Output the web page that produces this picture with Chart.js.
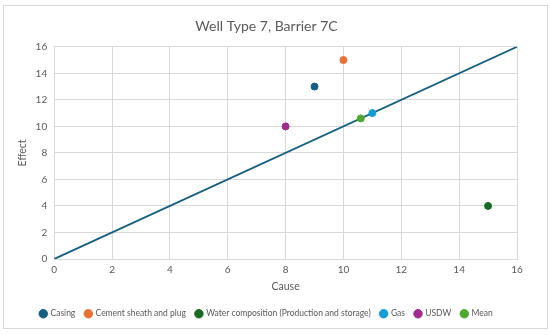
<!DOCTYPE html>
<html>
<head>
<meta charset="utf-8">
<script src="https://cdn.jsdelivr.net/npm/chart.js@4"></script>
<style>
  html, body { margin: 0; padding: 0; background: #fff; }
  #box { position: absolute; left: 3px; top: 5px; width: 543px; height: 322px; border: 1px solid #d9d9d9; }
  canvas { display: block; }
</style>
</head>
<body>
<div id="box"><canvas id="wellChart" width="543" height="322"></canvas></div>
<script>
  var seriesNames = ["Casing", "Cement sheath and plug", "Water composition (Production and storage)", "Gas", "USDW", "Mean"];
  var causeValues = [9, 10, 15, 11, 8, 10.6];
  var effectValues = [13, 15, 4, 11, 10, 10.6];
  var seriesColors = ["#156082", "#E97132", "#196B24", "#0F9ED5", "#A02B93", "#4EA72E"];
  var refLineX = [0, 16];
  var refLineY = [0, 16];

  var datasets = seriesNames.map(function (name, i) {
    return {
      label: name,
      data: [{ x: causeValues[i], y: effectValues[i] }],
      backgroundColor: seriesColors[i],
      borderColor: seriesColors[i],
      pointRadius: 3.5,
      showLine: false
    };
  });

  // straight reference line, kept out of the legend
  datasets.push({
    label: "line",
    data: refLineX.map(function (x, i) { return { x: x, y: refLineY[i] }; }),
    borderColor: "#156082",
    borderWidth: 1.8,
    pointRadius: 0,
    showLine: true,
    fill: false
  });

  var fam = "Lato";
  var tickFont = { family: fam, size: 10 };
  var grey = "#595959";

  new Chart(document.getElementById("wellChart").getContext("2d"), {
    type: "scatter",
    data: { datasets: datasets },
    options: {
      responsive: false,
      animation: false,
      layout: { padding: { left: 12, right: 30, top: 4, bottom: 0 } },
      plugins: {
        title: {
          display: true,
          text: "Well Type 7, Barrier 7C",
          color: grey,
          font: { family: fam, size: 14, weight: "normal" },
          padding: { top: 8, bottom: 12 }
        },
        legend: {
          position: "bottom",
          labels: {
            usePointStyle: true,
            pointStyle: "circle",
            boxWidth: 6,
            boxHeight: 6,
            padding: 10,
            color: grey,
            font: { family: fam, size: 8.5 },
            filter: function (item) { return item.text !== "line"; }
          }
        },
        tooltip: { enabled: false }
      },
      scales: {
        x: {
          type: "linear",
          min: 0,
          max: 16,
          ticks: { stepSize: 2, color: grey, font: tickFont, padding: 5 },
          grid: { color: "#d9d9d9", drawTicks: false },
          border: { color: "#d9d9d9" },
          title: { display: true, text: "Cause", color: grey, font: { family: fam, size: 10.5, lineHeight: 1 }, padding: { top: 0, bottom: 8 } }
        },
        y: {
          min: 0,
          max: 16,
          ticks: { stepSize: 2, color: grey, font: tickFont, padding: 7 },
          grid: { color: "#d9d9d9", drawTicks: false },
          border: { color: "#d9d9d9" },
          title: { display: true, text: "Effect", color: grey, font: { family: fam, size: 10.5 }, padding: { top: 0, bottom: 0 } }
        }
      }
    }
  });
</script>
</body>
</html>
